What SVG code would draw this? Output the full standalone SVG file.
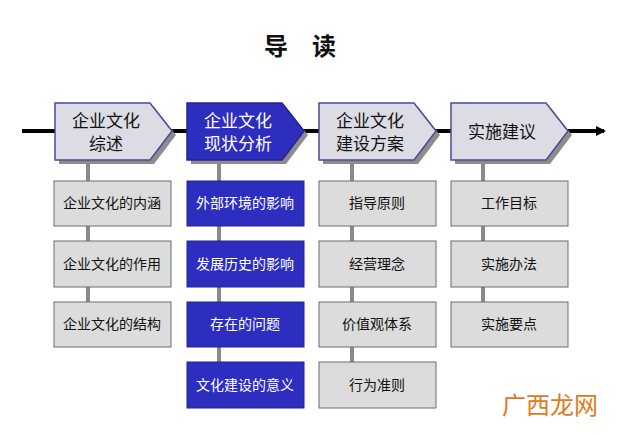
<svg xmlns="http://www.w3.org/2000/svg" width="618" height="434" viewBox="0 0 618 434">
<defs>
<style>
text{font-family:"Liberation Sans","Noto Sans CJK SC",sans-serif;text-anchor:middle}
.hl{fill:#dcdce4;stroke:#4a4a9a;stroke-width:1.5}
.hd{fill:#2d2dbf;stroke:#24248a;stroke-width:1.5}
.sh{fill:#8c8c8c}
.bl{fill:#dcdcdc;stroke:#6a6a7a;stroke-width:1}
.bd{fill:#2d2dbf;stroke:#24248a;stroke-width:1}
.tl{font-size:14px;fill:#111}
.td{font-size:14px;fill:#fff}
.hT{font-size:17px;fill:#111}
.hTd{font-size:17px;fill:#fff}
.vl{stroke:#8a8a8a;stroke-width:4}
</style>
<marker id="ah" markerWidth="10" markerHeight="10" refX="8" refY="5" orient="auto" markerUnits="userSpaceOnUse"><path d="M0,0 L10,5 L0,10 Z" fill="#000"/></marker>
</defs>
<rect width="618" height="434" fill="#fff"/>
<text x="300" y="55" style="font-size:24px;font-weight:bold" fill="#111">导　读</text>
<g id="connectors">
<line x1="22" y1="131" x2="604" y2="131" stroke="#000" stroke-width="4" marker-end="url(#ah)"/>
<line class="vl" x1="88" y1="160" x2="88" y2="347"/>
<line class="vl" x1="219" y1="160" x2="219" y2="408"/>
<line class="vl" x1="352" y1="160" x2="352" y2="408"/>
<line class="vl" x1="483" y1="160" x2="483" y2="347"/>
</g>
<g id="h1"><path class="sh" d="M59,107 H154 L176,135 L154,164 H59 Z"/><path class="hl" d="M55,103 H150 L172,131 L150,160 H55 Z"/><text class="hT" x="106" y="127">企业文化</text><text class="hT" x="106" y="150">综述</text></g>
<g id="h2"><path class="sh" d="M191,107 H286 L308,135 L286,164 H191 Z"/><path class="hd" d="M187,103 H282 L304,131 L282,160 H187 Z"/><text class="hTd" x="238" y="127">企业文化</text><text class="hTd" x="238" y="150">现状分析</text></g>
<g id="h3"><path class="sh" d="M323,107 H418 L440,135 L418,164 H323 Z"/><path class="hl" d="M319,103 H414 L436,131 L414,160 H319 Z"/><text class="hT" x="370" y="127">企业文化</text><text class="hT" x="370" y="150">建设方案</text></g>
<g id="h4"><path class="sh" d="M455,107 H550 L572,135 L550,164 H455 Z"/><path class="hl" d="M451,103 H546 L568,131 L546,160 H451 Z"/><text class="hT" x="502" y="138">实施建议</text></g>
<g id="b11"><rect class="bl" x="54" y="181" width="117" height="45"/><text class="tl" x="112" y="208">企业文化的内涵</text></g>
<g id="b12"><rect class="bl" x="54" y="241" width="117" height="46"/><text class="tl" x="112" y="269">企业文化的作用</text></g>
<g id="b13"><rect class="bl" x="54" y="302" width="117" height="45"/><text class="tl" x="112" y="329">企业文化的结构</text></g>
<g id="b21"><rect class="bd" x="187" y="181" width="117" height="45"/><text class="td" x="245" y="208">外部环境的影响</text></g>
<g id="b22"><rect class="bd" x="187" y="241" width="117" height="46"/><text class="td" x="245" y="269">发展历史的影响</text></g>
<g id="b23"><rect class="bd" x="187" y="302" width="117" height="45"/><text class="td" x="245" y="329">存在的问题</text></g>
<g id="b24"><rect class="bd" x="187" y="362" width="117" height="46"/><text class="td" x="245" y="390">文化建设的意义</text></g>
<g id="b31"><rect class="bl" x="319" y="181" width="117" height="45"/><text class="tl" x="377" y="208">指导原则</text></g>
<g id="b32"><rect class="bl" x="319" y="241" width="117" height="46"/><text class="tl" x="377" y="269">经营理念</text></g>
<g id="b33"><rect class="bl" x="319" y="302" width="117" height="45"/><text class="tl" x="377" y="329">价值观体系</text></g>
<g id="b34"><rect class="bl" x="319" y="362" width="117" height="46"/><text class="tl" x="377" y="390">行为准则</text></g>
<g id="b41"><rect class="bl" x="451" y="181" width="117" height="45"/><text class="tl" x="509" y="208">工作目标</text></g>
<g id="b42"><rect class="bl" x="451" y="241" width="117" height="46"/><text class="tl" x="509" y="269">实施办法</text></g>
<g id="b43"><rect class="bl" x="451" y="302" width="117" height="45"/><text class="tl" x="509" y="329">实施要点</text></g>
<text x="550" y="414" style="font-size:24px" fill="#e07a20">广西龙网</text>
</svg>
